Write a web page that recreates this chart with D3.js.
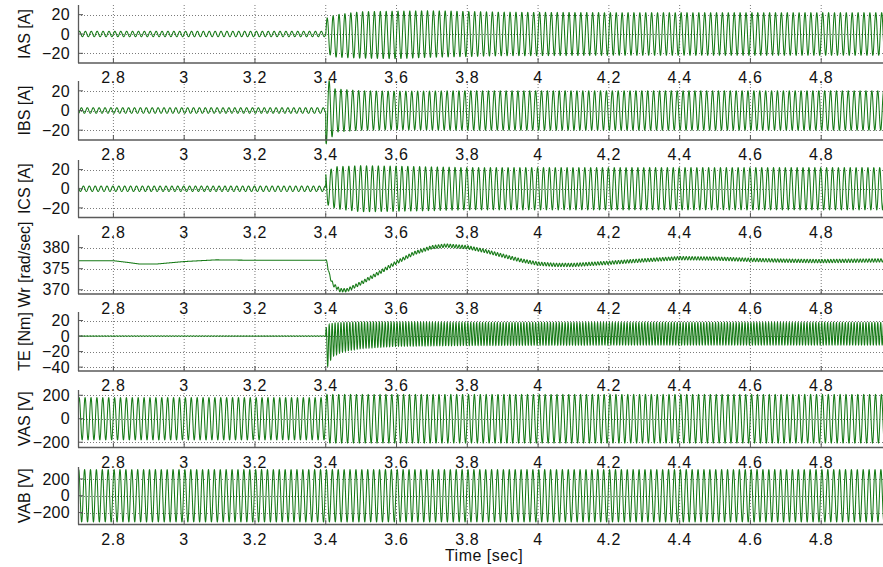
<!DOCTYPE html>
<html><head><meta charset="utf-8">
<script src="https://cdn.jsdelivr.net/npm/d3@7"></script>
<style>
body{margin:0;background:#fff}
text{font-family:"Liberation Sans",Arial,Helvetica,sans-serif;fill:#111}
</style>
</head><body>
<svg id="chart" width="883" height="567"></svg>
<script>
// ---------------- data ----------------
const X_DOMAIN = [2.7, 5.0];
const X_TICKS = [2.8, 3, 3.2, 3.4, 3.6, 3.8, 4, 4.2, 4.4, 4.6, 4.8];
const X_LABEL = "Time [sec]";
const SUPPLY_HZ = 60;          // electrical frequency (Wr = 377 rad/s)
const TORQUE_HZ = 120;         // double-frequency torque / speed ripple

const Y_LABELS = ["IAS [A]", "IBS [A]", "ICS [A]", "Wr [rad/sec]", "TE [Nm]", "VAS [V]", "VAB [V]"];
const Y_DOMAINS = [[-30, 30], [-30, 30], [-30, 30], [369, 383], [-45, 31], [-245, 245], [-342, 342]];
const Y_TICKS = [[-20, 0, 20], [-20, 0, 20], [-20, 0, 20], [370, 375, 380], [-40, -20, 0, 20], [-200, 0, 200], [-200, 0, 200]];

// phase currents: envelope knots (time, amplitude, dc offset)
const IAS_T   = [2.7, 3.4, 3.4001, 3.43, 3.5, 3.6, 3.7, 3.9, 4.2, 5.0];
const IAS_AMP = [2.8, 2.8, 18, 22, 24, 24.5, 24, 22.5, 22, 22];
const IAS_OFF = [0, 0, -2, -2, -1, -1, 0, 0, 0, 0];

const IBS_T   = [2.7, 3.4, 3.4001, 3.41, 3.425, 3.5, 3.6, 3.8, 5.0];
const IBS_AMP = [2.8, 2.8, 33, 31, 22, 20, 19.5, 20, 20];
const IBS_OFF = [0, 0, -1, -1, 0, 0, 0, 0, 0];

const ICS_T   = [2.7, 3.4, 3.4001, 3.43, 3.5, 3.6, 3.8, 4.0, 5.0];
const ICS_AMP = [2.8, 2.8, 17, 22, 24, 23.5, 22, 22, 22];
const ICS_OFF = [0, 0, 1, 1, 0, 0, 0, 0, 0];

// rotor speed: mean curve knots + ripple amplitude
const WR_T = [2.7, 2.8, 2.84, 2.875, 2.92, 2.96, 3.0, 3.09, 3.2, 3.4, 3.405, 3.41, 3.42, 3.44, 3.46, 3.5, 3.55, 3.6, 3.65, 3.7, 3.74, 3.8, 3.85, 3.9, 3.95, 4.0, 4.05, 4.1, 4.2, 4.3, 4.4, 4.5, 4.6, 4.7, 4.8, 4.9, 5.0];
const WR_V = [376.9, 376.9, 376.5, 376.1, 376.1, 376.4, 376.7, 377.1, 377.0, 377.0, 376.0, 373.6, 371.3, 369.9, 369.9, 371.6, 374.0, 376.5, 378.7, 380.1, 380.5, 380.1, 379.2, 378.1, 377.0, 376.2, 375.9, 375.9, 376.4, 377.0, 377.5, 377.4, 377.1, 376.9, 376.8, 376.9, 377.0];
const WR_RIP_T = [2.7, 3.4, 3.4001, 5.0];
const WR_RIP_A = [0, 0, 0.4, 0.4];

// electromagnetic torque: upper / lower envelope knots
const TE_T  = [2.7, 3.4, 3.4001, 3.403, 3.41, 3.42, 3.45, 3.5, 3.6, 3.8, 4.2, 5.0];
const TE_HI = [0.3, 0.3, 10, 12, 15, 16.5, 17.5, 18, 18, 17.5, 17.5, 17.5];
const TE_LO = [-0.3, -0.3, -20, -42, -34, -26, -20, -16, -13, -12, -11.5, -11.5];

// voltages: amplitude knots
const VAS_T   = [2.7, 3.4, 3.4001, 5.0];
const VAS_AMP = [180, 180, 207, 207];
const VAB_T   = [2.7, 5.0];
const VAB_AMP = [310, 310];

// ---------------- layout ----------------
const W = 883, H = 567;
const LEFT = 78, RIGHT = 892;   // x = 5.0 falls just outside the window
const PANELS = [[5, 63], [81, 140], [160, 217.5], [235, 294], [312, 371], [390, 447.5], [467, 524.5]];
const GREEN = "#167a16";
const TICK_FONT = 16, LABEL_FONT = 16;

const svg = d3.select("#chart");
svg.append("rect").attr("width", W).attr("height", H).attr("fill", "#fff");
const x = d3.scaleLinear().domain(X_DOMAIN).range([LEFT, RIGHT]);

const DT = 0.0002;
const times = d3.range(X_DOMAIN[0], X_DOMAIN[1] + DT / 2, DT);
const env = (ts, vs) => d3.scaleLinear().domain(ts).range(vs).clamp(true);
const w = 2 * Math.PI * SUPPLY_HZ, w2 = 2 * Math.PI * TORQUE_HZ;

function phaseSeries(ts, amps, offs, phase) {
  const a = env(ts, amps), o = env(ts, offs);
  return times.map(t => [t, o(t) + a(t) * Math.sin(w * t + phase)]);
}
const ph = Math.PI / 180;
const series = [];
series.push(phaseSeries(IAS_T, IAS_AMP, IAS_OFF, 0));
series.push(phaseSeries(IBS_T, IBS_AMP, IBS_OFF, -120 * ph));
series.push(phaseSeries(ICS_T, ICS_AMP, ICS_OFF, 120 * ph));
{
  const m = env(WR_T, WR_V), r = env(WR_RIP_T, WR_RIP_A);
  series.push(times.map(t => [t, m(t) + r(t) * Math.sin(w2 * t)]));
}
{
  const hi = env(TE_T, TE_HI), lo = env(TE_T, TE_LO);
  series.push(times.map(t => {
    const mid = (hi(t) + lo(t)) / 2, half = (hi(t) - lo(t)) / 2;
    return [t, mid + half * Math.sin(w2 * t + 0.5)];
  }));
}
{
  const a = env(VAS_T, VAS_AMP);
  series.push(times.map(t => [t, a(t) * Math.sin(w * t + 0.3)]));
}
{
  const a = env(VAB_T, VAB_AMP);
  series.push(times.map(t => [t, a(t) * Math.sin(w * t + 0.3 + 30 * ph)]));
}

// ---------------- draw ----------------
const defs = svg.append("defs");
defs.append("clipPath").attr("id", "clipx")
  .append("rect").attr("x", LEFT).attr("y", 0).attr("width", W - LEFT).attr("height", H);

PANELS.forEach(([top, bottom], i) => {
  const y = d3.scaleLinear().domain(Y_DOMAINS[i]).range([bottom, top]);
  const g = svg.append("g");

  // grid
  g.selectAll("line.gx").data(X_TICKS).join("line")
    .attr("x1", d => x(d)).attr("x2", d => x(d))
    .attr("y1", top).attr("y2", bottom)
    .attr("stroke", "#7a7a7a").attr("stroke-width", 1).attr("stroke-dasharray", "1,2");
  g.selectAll("line.gy").data(Y_TICKS[i]).join("line")
    .attr("x1", LEFT).attr("x2", W)
    .attr("y1", d => Math.round(y(d)) + 0.5).attr("y2", d => Math.round(y(d)) + 0.5)
    .attr("stroke", "#7a7a7a").attr("stroke-width", 1).attr("stroke-dasharray", "1,2");

  // signal
  const line = d3.line().x(d => x(d[0])).y(d => y(d[1]));
  g.append("path").datum(series[i])
    .attr("clip-path", "url(#clipx)")
    .attr("d", line).attr("fill", "none")
    .attr("stroke", GREEN).attr("stroke-width", 1.05);

  // axes lines (left + bottom)
  g.append("line").attr("x1", LEFT + 0.5).attr("x2", LEFT + 0.5).attr("y1", top).attr("y2", bottom)
    .attr("stroke", "#5a5a5a").attr("stroke-width", 1.3);
  g.append("line").attr("x1", LEFT).attr("x2", W).attr("y1", bottom).attr("y2", bottom)
    .attr("stroke", "#5a5a5a").attr("stroke-width", 1.3);

  // tick marks (inward)
  g.selectAll("line.tx").data(X_TICKS).join("line")
    .attr("x1", d => x(d)).attr("x2", d => x(d))
    .attr("y1", bottom).attr("y2", bottom - 5)
    .attr("stroke", "#555").attr("stroke-width", 1);
  g.selectAll("line.ty").data(Y_TICKS[i]).join("line")
    .attr("x1", LEFT).attr("x2", LEFT + 5)
    .attr("y1", d => y(d)).attr("y2", d => y(d))
    .attr("stroke", "#555").attr("stroke-width", 1);

  // tick labels
  const fmt = d3.format("~g");
  g.selectAll("text.xl").data(X_TICKS).join("text")
    .attr("x", d => x(d)).attr("y", bottom + 20)
    .attr("text-anchor", "middle").attr("font-size", TICK_FONT)
    .attr("letter-spacing", 0.7)
    .text(d => fmt(d));
  g.selectAll("text.yl").data(Y_TICKS[i]).join("text")
    .attr("x", LEFT - 8).attr("y", d => y(d) + 5.7)
    .attr("text-anchor", "end").attr("font-size", TICK_FONT)
    .attr("letter-spacing", 0.3)
    .text(d => fmt(d));

  // y label
  const cy = (top + bottom) / 2;
  g.append("text")
    .attr("transform", `translate(30,${cy}) rotate(-90)`)
    .attr("text-anchor", "middle").attr("font-size", LABEL_FONT)
    .text(Y_LABELS[i]);
});

svg.append("text").attr("x", (LEFT + RIGHT) / 2 - 1).attr("y", 561)
  .attr("text-anchor", "middle").attr("font-size", TICK_FONT)
  .attr("letter-spacing", 0.5)
  .text(X_LABEL);
</script>
</body></html>
